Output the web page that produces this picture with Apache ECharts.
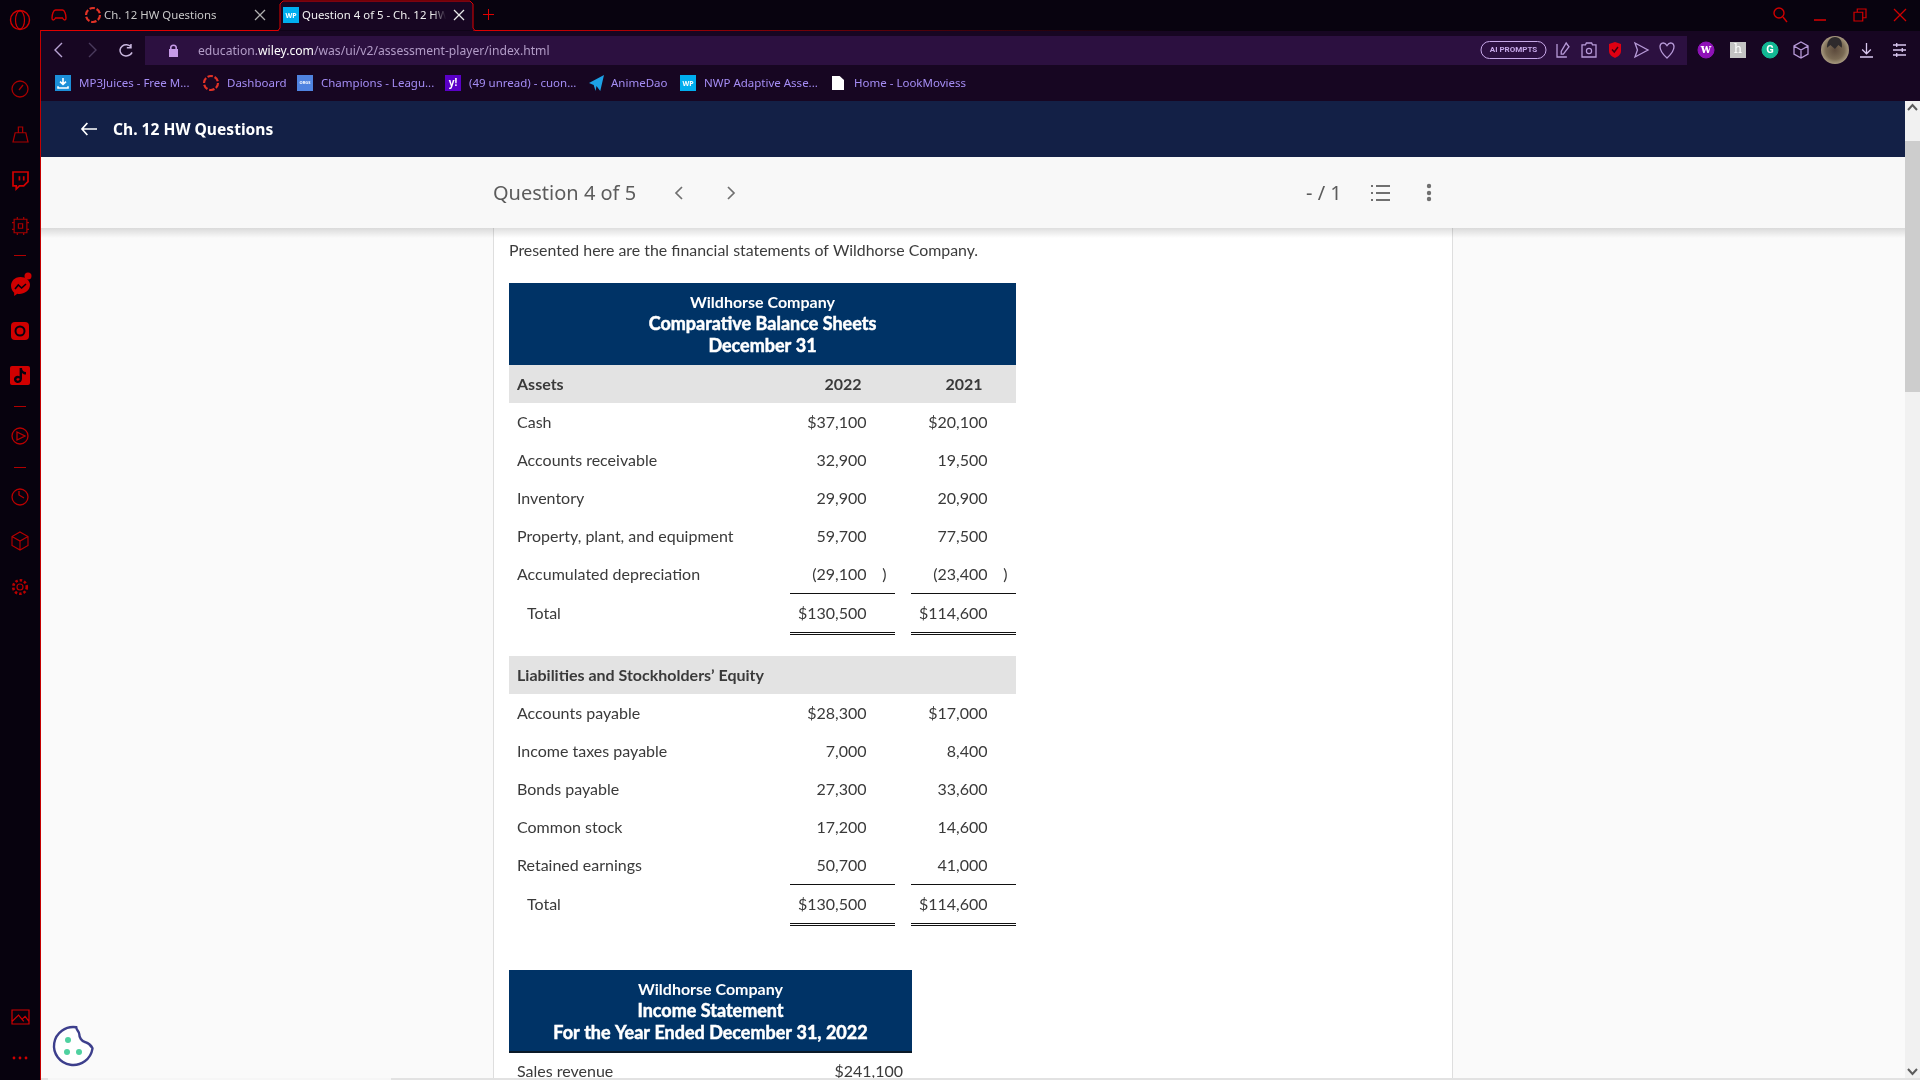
<!DOCTYPE html>
<html>
<head>
<meta charset="utf-8">
<title>Wildhorse Company</title>
<script src="https://cdn.jsdelivr.net/npm/echarts@6/dist/echarts.min.js"></script>
<style>
html, body { margin: 0; padding: 0; background: #fafafa; overflow: hidden; }
#main { width: 1920px; height: 1080px; }
</style>
</head>
<body>
<div id="main"></div>
<script>
var years = ['2022', '2021'];

var assetRows = ['Assets', 'Cash', 'Accounts receivable', 'Inventory', 'Property, plant, and equipment', 'Accumulated depreciation', 'Total'];
var assets2022 = [null, 37100, 32900, 29900, 59700, -29100, 130500];
var assets2021 = [null, 20100, 19500, 20900, 77500, -23400, 114600];

var equityRows = ['Liabilities and Stockholders\u2019 Equity', 'Accounts payable', 'Income taxes payable', 'Bonds payable', 'Common stock', 'Retained earnings', 'Total'];
var equity2022 = [null, 28300, 7000, 27300, 17200, 50700, 130500];
var equity2021 = [null, 17000, 8400, 33600, 14600, 41000, 114600];

var incomeRows = ['Sales revenue'];
var income2022 = [241100];

var balanceTitle = ['Wildhorse Company', 'Comparative Balance Sheets', 'December 31'];
var incomeTitle = ['Wildhorse Company', 'Income Statement', 'For the Year Ended December 31, 2022'];
var introText = 'Presented here are the financial statements of Wildhorse Company.';

var bookmarks = ['MP3Juices - Free M...', 'Dashboard', 'Champions - Leagu...', '(49 unread) - cuon...', 'AnimeDao', 'NWP Adaptive Asse...', 'Home - LookMoviess'];
var bookmarkX = [79, 227, 321, 469, 611, 704, 854];

var bodyFont = 'Lato';
var uiFont = '"Noto Sans"';
var red = '#d00000';
var lilac = '#b79ad8';

var els = [];
var iconEls = [];

function rect(x, y, w, h, fill, z) {
    els.push({ type: 'rect', z: z || 0, shape: { x: x, y: y, width: w, height: h }, style: { fill: fill }, silent: true });
}
function label(x, y, text, size, color, opt) {
    opt = opt || {};
    els.push({
        type: 'text', z: opt.z || 1, x: x, y: y + 1, silent: true,
        style: {
            text: text, fill: color, fontSize: size, fontFamily: opt.font || uiFont,
            fontWeight: opt.weight || 'normal', align: opt.align || 'left', verticalAlign: 'middle',
            stroke: opt.stroke || 'none', lineWidth: opt.stroke ? 0.5 : 0
        }
    });
}
function icon(d, x, y, w, h, stroke, fill, lw) {
    iconEls.push({
        type: 'path',
        shape: { pathData: d, x: x, y: y, width: w, height: h, layout: 'cover' },
        style: { stroke: stroke || 'none', fill: fill || 'none', lineWidth: lw || 1.3 }
    });
}
function iconDot(cx, cy, r, fill) {
    iconEls.push({ type: 'circle', shape: { cx: cx, cy: cy, r: r }, style: { fill: fill } });
}
function ring(cx, cy, r, stroke, lw, dash, fill) {
    els.push({
        type: 'circle', z: 1, silent: true, shape: { cx: cx, cy: cy, r: r },
        style: { stroke: stroke, lineWidth: lw || 1.3, fill: fill || 'none', lineDash: dash || null }
    });
}
function fillDot(cx, cy, r, fill) {
    els.push({ type: 'circle', z: 1, silent: true, shape: { cx: cx, cy: cy, r: r }, style: { fill: fill } });
}
function segment(x1, y1, x2, y2, color, lw) {
    els.push({
        type: 'line', z: 1, silent: true, shape: { x1: x1, y1: y1, x2: x2, y2: y2 },
        style: { stroke: color, lineWidth: lw || 1.2 }
    });
}

// page and window frame
rect(0, 0, 1920, 1080, '#fafafa');
rect(493, 228, 960, 852, '#ffffff');
rect(493, 228, 1, 852, '#dedede');
rect(1452, 228, 1, 852, '#dedede');
rect(0, 0, 1920, 38, '#08030f');
rect(0, 0, 40, 1080, '#07020e');
rect(40, 31, 1880, 70, '#170622');
rect(145, 36, 1542, 29, '#2c1040');
rect(40, 101, 1865, 56, '#132046');
rect(40, 157, 1865, 71, '#f8f8f8');
els.push({
    type: 'rect', z: 0, silent: true, shape: { x: 40, y: 228, width: 1865, height: 10 },
    style: { fill: new echarts.graphic.LinearGradient(0, 0, 0, 1, [{ offset: 0, color: 'rgba(0,0,0,0.13)' }, { offset: 1, color: 'rgba(0,0,0,0)' }]) }
});

// red frame and active tab
rect(40, 30, 1, 1050, '#c40000', 2);
rect(40, 30, 239, 1, '#e00000');
els.push({
    type: 'rect', z: 0, silent: true, shape: { x: 473, y: 30, width: 700, height: 1 },
    style: { fill: new echarts.graphic.LinearGradient(0, 0, 1, 0, [{ offset: 0, color: '#e00000' }, { offset: 1, color: 'rgba(200,0,0,0)' }]) }
});
els.push({
    type: 'polyline', z: 0, silent: true,
    shape: { points: [[278, 30.5], [280, 28], [280, 4], [283, 1], [470, 1], [473, 4], [473, 28], [475, 30.5]] },
    style: { fill: '#170622', stroke: '#e00000', lineWidth: 1 }
});

// tabs
icon('M5 3 H15 C18 3 20 8 20 12 C20 15 17 15 15 12 H5 C3 15 0 15 0 12 C0 8 2 3 5 3 Z', 52, 10, 14, 10, red, null, 1.4);
ring(93, 15, 7, '#e23226', 2.2, [5.5, 1.8]);
label(104, 15, 'Ch. 12 HW Questions', 11.4, '#c8c8c8');
segment(255, 10, 265, 20, '#b0b0b0', 1.3);
segment(265, 10, 255, 20, '#b0b0b0', 1.3);
rect(283, 7, 16, 16, '#00aeef');
label(291, 14.5, 'WP', 7, '#ffffff', { align: 'center', weight: 'bold' });
label(302, 15, 'Question 4 of 5 - Ch. 12 HW', 11.4, '#f0f0f0');
els.push({
    type: 'rect', z: 2, silent: true, shape: { x: 432, y: 5, width: 14, height: 22 },
    style: { fill: new echarts.graphic.LinearGradient(0, 0, 1, 0, [{ offset: 0, color: 'rgba(23,6,34,0)' }, { offset: 1, color: '#170622' }]) }
});
rect(446, 5, 24, 22, '#170622', 2);
els.push({ type: 'line', z: 3, silent: true, shape: { x1: 454, y1: 10, x2: 464, y2: 20 }, style: { stroke: '#e8e8e8', lineWidth: 1.3 } });
els.push({ type: 'line', z: 3, silent: true, shape: { x1: 464, y1: 10, x2: 454, y2: 20 }, style: { stroke: '#e8e8e8', lineWidth: 1.3 } });
segment(483, 14.5, 494, 14.5, '#e00000', 1);
segment(488.5, 9, 488.5, 20, '#e00000', 1);

// window controls
ring(1779, 13, 5, red, 1.4);
segment(1783, 17, 1787, 22, red, 1.4);
segment(1814, 20, 1826, 20, red, 1.6);
icon('M1 4 H9 V12 H1 Z M4 4 V1 H12 V9 H9', 1854, 9, 12, 12, red, null, 1.2);
segment(1894, 9, 1906, 21, red, 1.2);
segment(1906, 9, 1894, 21, red, 1.2);

// address row
icon('M8 1 L1 8 L8 15', 55, 43, 7, 14, '#b8a3d4', null, 1.4);
icon('M1 1 L8 8 L1 15', 89, 43, 7, 14, '#4a3a5c', null, 1.4);
icon('M14 3 A6 6 0 1 0 15 9 M14 0 V4 H10', 120, 44, 12, 12, '#c9b7de', null, 1.5);
rect(169, 49, 9, 8, '#c79be8');
ring(173.5, 48, 2.8, '#c79be8', 1.5);
els.push({
    type: 'text', z: 1, silent: true, x: 198, y: 52,
    style: {
        text: '{a|education.}{b|wiley.com}{a|/was/ui/v2/assessment-player/index.html}',
        verticalAlign: 'middle',
        rich: {
            a: { fill: '#b39dc8', fontSize: 12.15, fontFamily: uiFont },
            b: { fill: '#ffffff', fontSize: 12.15, fontFamily: uiFont }
        }
    }
});
els.push({ type: 'rect', z: 1, silent: true, shape: { x: 1481, y: 41.5, width: 65, height: 17, r: 8.5 }, style: { fill: 'none', stroke: '#c7a8e8', lineWidth: 1 } });
label(1513.5, 49, 'AI PROMPTS', 8, '#c7a8e8', { align: 'center', weight: 'bold', font: 'Roboto' });
icon('M2 4 V18 H16 M8 12 L15 3 L19 7 L11 15 H8 Z', 1557, 43, 12, 14, lilac);
icon('M2 5 H6 L7 3 H13 L14 5 H18 V18 H2 Z', 1582, 43, 14, 14, lilac);
ring(1589, 51, 2.6, lilac, 1.2);
icon('M1 3 L7 1 L13 3 V10 C13 14 9 16 7 17 C5 16 1 14 1 10 Z', 1609, 42, 12, 16, null, '#e00012');
icon('M1 4 L4 7 L9 1', 1612, 47, 6, 5, '#3a0010', null, 1.5);
icon('M1 1 L17 8 L1 15 L4 8 Z', 1635, 43, 13, 14, lilac);
icon('M8 15 C3 11 1 8 1 5 C1 2 5 0 8 4 C11 0 15 2 15 5 C15 8 13 11 8 15 Z', 1660, 43, 14, 15, lilac);
ring(1706, 50, 8, '#8f12b8', 1, null, '#8f12b8');
label(1706, 49, 'w', 12, '#ffffff', { align: 'center', font: 'DejaVu Serif', weight: 'bold' });
rect(1730, 42, 16, 16, '#c4c4c4');
label(1738, 49, 'h', 13, '#ffffff', { align: 'center', font: 'DejaVu Serif' });
ring(1770, 50, 8, '#12b894', 1, null, '#12b894');
label(1770, 49, 'G', 11, '#ffffff', { align: 'center', font: 'Roboto', weight: 'bold' });
icon('M8 1 L15 5 V13 L8 17 L1 13 V5 Z M1 5 L8 9 L15 5 M8 9 V17', 1794, 42, 14, 16, lilac);
els.push({
    type: 'circle', z: 1, silent: true, shape: { cx: 1835, cy: 50, r: 14 },
    style: { fill: new echarts.graphic.RadialGradient(0.5, 0.5, 0.6, [{ offset: 0, color: '#5c4a3c' }, { offset: 0.55, color: '#7a6a54' }, { offset: 1, color: '#c4b69a' }]) }
});
icon('M1 8 C1 2 5 0 8 0 C12 0 15 3 14 8 L11 6 L8 9 L4 6 Z', 1827, 37, 15, 12, null, '#2e2a2c');
icon('M7 1 V11 M3 7 L7 11 L11 7 M1 14 H13', 1860, 43, 13, 14, '#d8c6ee');
icon('M1 3 H15 M1 8 H15 M1 13 H15 M5 1 V5 M11 6 V10 M5 11 V15', 1893, 43, 13, 14, '#d8c6ee');

// bookmarks
for (var b = 0; b < bookmarks.length; b++) {
    label(bookmarkX[b], 83, bookmarks[b], 11.5, '#a58df5');
}
rect(55, 75, 16, 16, '#1c8fd8');
icon('M6 1 V8 M3 5 L6 8 L9 5 M1 10 V12 H11 V10', 58, 78, 10, 10, '#ffffff', null, 1.6);
ring(211, 83, 7, '#e23226', 2.2, [5.5, 1.8]);
rect(297, 75, 16, 16, '#4f83e0');
label(305, 82, 'ORGS', 4, '#ffffff', { align: 'center', weight: 'bold' });
rect(445, 75, 16, 16, '#5a00c8');
label(453, 82, 'y!', 10, '#ffffff', { align: 'center', weight: 'bold' });
icon('M0 8 L16 0 L12 16 L8 11 L7 16 L5 10 Z', 589, 75, 15, 16, null, '#1da1e6');
rect(680, 75, 16, 16, '#00aeef');
label(688, 82.5, 'WP', 7, '#ffffff', { align: 'center', weight: 'bold' });
icon('M0 0 H7 L11 4 V14 H0 Z', 832, 76, 12, 14, null, '#ffffff');

// left sidebar
ring(20, 20, 9.5, red, 1.4);
icon('M5 0 C8 0 10 4.5 10 10 C10 15.5 8 20 5 20 C2 20 0 15.5 0 10 C0 4.5 2 0 5 0 Z', 15.5, 11, 9, 18, red, null, 1.2);
ring(20, 89, 8, '#a80000', 1.3);
segment(19, 90, 23, 85, '#a80000', 1.3);
icon('M6 8 V3 H10 V8 M3 8 H13 L15 16 H1 Z', 13, 127, 15, 15, '#a80000', null, 1.2);
icon('M2 1 H16 V10 L12 14 H8 L5 17 V14 H2 Z M8 5 V9 M12 5 V9', 13, 172, 15, 17, red, null, 1.7);
icon('M3 3 H15 V15 H3 Z M7 7 H11 V11 H7 Z M6 1 V3 M12 1 V3 M6 15 V17 M12 15 V17 M1 6 H3 M1 12 H3 M15 6 H17 M15 12 H17', 12, 217, 17, 18, '#a80000', null, 1.2);
rect(14, 255, 12, 1, '#b00000');
icon('M10 1 C4 1 1 5 1 9 C1 12 3 14 4 15 V18 L7 16 C12 17 19 14 19 8 C19 4 15 1 10 1 Z', 11, 277, 19, 19, null, '#d00000');
icon('M1 6 L4 2 L7 5 L11 1', 15, 284, 11, 5, '#07020e', null, 1.6);
fillDot(28, 276, 3.5, '#d00000');
els.push({ type: 'rect', z: 1, silent: true, shape: { x: 11, y: 322, width: 18, height: 18, r: 4 }, style: { fill: '#d00000' } });
ring(20, 331, 4.5, '#07020e', 2);
els.push({ type: 'rect', z: 1, silent: true, shape: { x: 10, y: 366, width: 20, height: 19, r: 2 }, style: { fill: '#d00000' } });
icon('M8 1 H11 C11 4 13 6 16 6 V9 C14 9 12 8 11 7 V14 C11 18 7 20 4 19 C1 18 0 14 2 12 C4 10 6 10 8 11 V14 C6 13 4 14 4 15 C4 17 8 17 8 14 Z', 14, 368, 12, 15, null, '#07020e');
rect(14, 406, 12, 1, '#b00000');
ring(20, 436, 8, '#b80000', 1.3);
icon('M1 1 L10 5 L1 9 Z', 17, 432, 8, 8, '#b80000');
rect(14, 467, 12, 1, '#b00000');
ring(20, 497, 8, '#b80000', 1.3);
icon('M1 1 V5 L5 8', 19, 491, 5, 7, '#b80000');
icon('M8 1 L15 5 V13 L8 17 L1 13 V5 Z M1 5 L8 9 L15 5 M8 9 V17', 12, 532, 16, 18, '#b80000', null, 1.1);
ring(20, 587, 3, '#b80000', 1.2);
ring(20, 587, 6.8, '#b80000', 2.6, [2.5, 2]);
icon('M1 3 H14 V14 H1 Z M1 12 L6 7 L10 12 M9 10 L11 8 L14 12', 12, 1010, 17, 14, red, null, 1.2);
fillDot(14, 1058, 1.4, red);
fillDot(20, 1058, 1.4, red);
fillDot(26, 1058, 1.4, red);

// cookie button
icon('M76 1027 A19 19 0 1 0 92 1048 C90 1044 88 1043 85 1042 C81 1041 79 1037 79 1034 C79 1031 76 1030 76 1027 Z', 54, 1027, 38.5, 38, '#3d3f8c', '#ffffff', 2.4);
iconDot(68, 1040, 3, '#4fd1a0');
iconDot(67, 1052, 3, '#4fd1a0');
iconDot(79, 1052, 3, '#4fd1a0');

// navy bar
icon('M6 1 L1 6 L6 11 M1 6 H15', 82, 123, 15, 12, '#ffffff', null, 1.7);
label(113, 129.5, 'Ch. 12 HW Questions', 15.6, '#ffffff', { weight: 'bold' });

// question toolbar
label(493, 193, 'Question 4 of 5', 20, '#5c5c5c');
icon('M6 1 L1 7 L6 13', 676, 187, 6, 12, '#707070', null, 1.7);
icon('M1 1 L6 7 L1 13', 728, 187, 6, 12, '#707070', null, 1.7);
label(1306, 193, '- / 1', 20, '#5c5c5c');
icon('M0 2 H2 M0 7 H2 M0 12 H2 M5 2 H19 M5 7 H19 M5 12 H19', 1371, 186, 19, 14, '#707070', null, 1.9);
fillDot(1429, 186, 2.2, '#707070');
fillDot(1429, 193, 2.2, '#707070');
fillDot(1429, 199, 2.2, '#707070');

// scrollbar
rect(1905, 101, 15, 979, '#f1f1f1');
rect(1905, 141, 15, 251, '#cdcdcd');
icon('M1 6 L6 1 L11 6', 1908, 105, 9, 5, '#5c5c5c', null, 2);
icon('M1 1 L6 6 L11 1', 1908, 1069, 9, 5, '#5c5c5c', null, 2);

// statement text outside the tables
label(509, 250, introText, 15.9, '#3c3c3c', { font: bodyFont });

function titleBox(x, y, w, h, lines) {
    rect(x, y, w, h, '#003366');
    for (var i = 0; i < lines.length; i++) {
        label(x + w / 2, y + 18.5 + i * 22, lines[i], i === 0 ? 16 : 18, '#ffffff', {
            font: bodyFont, weight: 'bold', align: 'center', stroke: i === 0 ? null : '#ffffff'
        });
    }
}
titleBox(509, 283, 507, 82, balanceTitle);
titleBox(509, 970, 403, 82, incomeTitle);
rect(509, 1051, 403, 2, '#0b1a28');

// bottom edge of the window goes over the clipped row
rect(41, 1078, 1879, 2, '#e2e2e2', 100);
rect(48, 1078, 343, 2, '#f6f6f6', 101);

function formatAmount(v, i, last) {
    var s = Math.abs(v).toString().replace(/\B(?=(\d{3})+$)/g, ',');
    if (v < 0) return '(' + s;
    return (i === 1 || i === last ? '$' : '') + s;
}

function tableItem(rows, cols, withYears) {
    var last = rows.length - 1;
    return function (params, api) {
        var i = api.value(1);
        var first = api.coord([0, i]);
        var band = api.size([1, 1])[1];
        var y = first[1];
        var children = [];
        var isHead = cols[0][i] === null;
        var isTotal = rows.length > 1 && i === last;
        if (isHead) {
            children.push({
                type: 'rect', shape: { x: 509, y: y - band / 2, width: 507, height: band },
                style: { fill: '#e3e3e3' }
            });
        }
        var rowY = isTotal ? y + 2 : y + 1;
        children.push({
            type: 'text', x: isTotal ? 527 : 517, y: rowY,
            style: {
                text: rows[i], fill: '#3a3a3a', fontSize: 16, fontFamily: bodyFont,
                fontWeight: isHead ? 'bold' : 'normal', verticalAlign: 'middle', align: 'left'
            }
        });
        for (var j = 0; j < cols.length; j++) {
            var cx = api.coord([j, i])[0];
            if (isHead) {
                if (withYears) {
                    children.push({
                        type: 'text', x: cx, y: rowY,
                        style: { text: years[j], fill: '#3a3a3a', fontSize: 16, fontFamily: bodyFont, fontWeight: 'bold', align: 'center', verticalAlign: 'middle' }
                    });
                }
                continue;
            }
            var v = cols[j][i];
            children.push({
                type: 'text', x: cx + 23.5, y: rowY,
                style: { text: formatAmount(v, i, last), fill: '#3a3a3a', fontSize: 16, fontFamily: bodyFont, align: 'right', verticalAlign: 'middle' }
            });
            if (v < 0) {
                children.push({
                    type: 'text', x: cx + 43.5, y: rowY,
                    style: { text: ')', fill: '#3a3a3a', fontSize: 16, fontFamily: bodyFont, align: 'right', verticalAlign: 'middle' }
                });
            }
            if (rows.length > 1 && i === last - 1) {
                children.push({
                    type: 'line', shape: { x1: cx - 53, y1: y + band / 2 + 0.5, x2: cx + 52, y2: y + band / 2 + 0.5 },
                    style: { stroke: '#111111', lineWidth: 1 }
                });
            }
            if (isTotal) {
                children.push({
                    type: 'line', shape: { x1: cx - 53, y1: y + band / 2 + 1.5, x2: cx + 52, y2: y + band / 2 + 1.5 },
                    style: { stroke: '#111111', lineWidth: 1 }
                });
                children.push({
                    type: 'line', shape: { x1: cx - 53, y1: y + band / 2 + 3.5, x2: cx + 52, y2: y + band / 2 + 3.5 },
                    style: { stroke: '#111111', lineWidth: 1 }
                });
            }
        }
        return { type: 'group', children: children };
    };
}

function axisX(idx, data) {
    return { type: 'category', gridIndex: idx, data: data, show: false };
}
function axisY(idx, data) {
    return { type: 'category', gridIndex: idx, data: data, show: false, inverse: true };
}
function tableSeries(idx, rows, cols, withYears) {
    return {
        type: 'custom',
        xAxisIndex: idx,
        yAxisIndex: idx,
        clip: false,
        silent: true,
        animation: false,
        encode: { x: 0, y: 1 },
        data: rows.map(function (r, i) { return [0, i]; }),
        renderItem: tableItem(rows, cols, withYears)
    };
}

var myChart = echarts.init(document.getElementById('main'), null, { renderer: 'canvas' });
myChart.setOption({
    animation: false,
    backgroundColor: '#fafafa',
    graphic: { elements: els },
    grid: [
        { left: 782.5, top: 365, width: 242, height: 266 },
        { left: 782.5, top: 656, width: 242, height: 266 },
        { left: 819, top: 1061, width: 121, height: 19 }
    ],
    xAxis: [axisX(0, years), axisX(1, years), axisX(2, ['2022'])],
    yAxis: [axisY(0, assetRows), axisY(1, equityRows), axisY(2, incomeRows)],
    series: [
        tableSeries(0, assetRows, [assets2022, assets2021], true),
        tableSeries(1, equityRows, [equity2022, equity2021], false),
        tableSeries(2, incomeRows, [income2022], false),
        {
            type: 'custom',
            coordinateSystem: 'none',
            silent: true,
            animation: false,
            z: 3,
            data: [[0]],
            renderItem: function () {
                return { type: 'group', children: iconEls };
            }
        }
    ]
});
</script>
</body>
</html>
